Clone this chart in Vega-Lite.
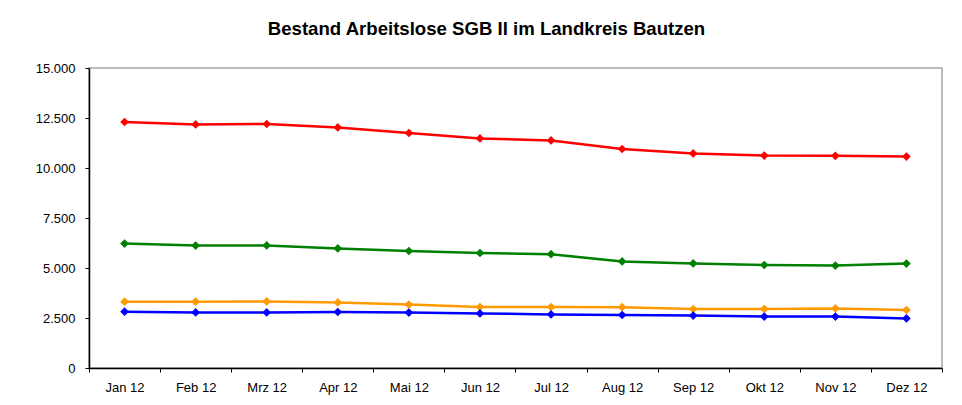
{
  "$schema": "https://vega.github.io/schema/vega-lite/v6.json",
  "width": 853,
  "height": 300,
  "autosize": {"type": "none"},
  "padding": {"left": 89, "top": 68, "right": 20, "bottom": 37},
  "background": "white",
  "title": {
    "text": "Bestand Arbeitslose SGB II im Landkreis Bautzen",
    "font": "Liberation Sans",
    "fontSize": 18.6,
    "fontWeight": "bold",
    "color": "#000000",
    "anchor": "middle",
    "dx": -29,
    "offset": 23
  },
  "config": {
    "view": {"stroke": "#a6a6a6", "strokeWidth": 1.5},
    "axis": {
      "labelFont": "Liberation Sans",
      "labelFontSize": 13,
      "labelColor": "#000000",
      "domainColor": "#000000",
      "domainWidth": 1.5,
      "tickColor": "#000000",
      "tickSize": 4,
      "grid": false,
      "title": null
    }
  },
  "data": {
    "values": [
      {"monat": "Jan 12", "reihe": "A", "wert": 12300},
      {"monat": "Feb 12", "reihe": "A", "wert": 12180},
      {"monat": "Mrz 12", "reihe": "A", "wert": 12200},
      {"monat": "Apr 12", "reihe": "A", "wert": 12030},
      {"monat": "Mai 12", "reihe": "A", "wert": 11750},
      {"monat": "Jun 12", "reihe": "A", "wert": 11480},
      {"monat": "Jul 12", "reihe": "A", "wert": 11380},
      {"monat": "Aug 12", "reihe": "A", "wert": 10950},
      {"monat": "Sep 12", "reihe": "A", "wert": 10730},
      {"monat": "Okt 12", "reihe": "A", "wert": 10620},
      {"monat": "Nov 12", "reihe": "A", "wert": 10610},
      {"monat": "Dez 12", "reihe": "A", "wert": 10570},
      {"monat": "Jan 12", "reihe": "B", "wert": 6220},
      {"monat": "Feb 12", "reihe": "B", "wert": 6120},
      {"monat": "Mrz 12", "reihe": "B", "wert": 6130},
      {"monat": "Apr 12", "reihe": "B", "wert": 5980},
      {"monat": "Mai 12", "reihe": "B", "wert": 5850},
      {"monat": "Jun 12", "reihe": "B", "wert": 5750},
      {"monat": "Jul 12", "reihe": "B", "wert": 5690},
      {"monat": "Aug 12", "reihe": "B", "wert": 5330},
      {"monat": "Sep 12", "reihe": "B", "wert": 5230},
      {"monat": "Okt 12", "reihe": "B", "wert": 5150},
      {"monat": "Nov 12", "reihe": "B", "wert": 5120},
      {"monat": "Dez 12", "reihe": "B", "wert": 5220},
      {"monat": "Jan 12", "reihe": "C", "wert": 3317},
      {"monat": "Feb 12", "reihe": "C", "wert": 3317},
      {"monat": "Mrz 12", "reihe": "C", "wert": 3330},
      {"monat": "Apr 12", "reihe": "C", "wert": 3280},
      {"monat": "Mai 12", "reihe": "C", "wert": 3170},
      {"monat": "Jun 12", "reihe": "C", "wert": 3050},
      {"monat": "Jul 12", "reihe": "C", "wert": 3050},
      {"monat": "Aug 12", "reihe": "C", "wert": 3040},
      {"monat": "Sep 12", "reihe": "C", "wert": 2950},
      {"monat": "Okt 12", "reihe": "C", "wert": 2950},
      {"monat": "Nov 12", "reihe": "C", "wert": 2980},
      {"monat": "Dez 12", "reihe": "C", "wert": 2900},
      {"monat": "Jan 12", "reihe": "D", "wert": 2817},
      {"monat": "Feb 12", "reihe": "D", "wert": 2780},
      {"monat": "Mrz 12", "reihe": "D", "wert": 2780},
      {"monat": "Apr 12", "reihe": "D", "wert": 2800},
      {"monat": "Mai 12", "reihe": "D", "wert": 2770},
      {"monat": "Jun 12", "reihe": "D", "wert": 2730},
      {"monat": "Jul 12", "reihe": "D", "wert": 2680},
      {"monat": "Aug 12", "reihe": "D", "wert": 2650},
      {"monat": "Sep 12", "reihe": "D", "wert": 2620},
      {"monat": "Okt 12", "reihe": "D", "wert": 2570},
      {"monat": "Nov 12", "reihe": "D", "wert": 2570},
      {"monat": "Dez 12", "reihe": "D", "wert": 2480}
    ]
  },
  "mark": {
    "type": "line",
    "strokeWidth": 2.5,
    "point": {"shape": "diamond", "filled": true, "size": 75, "opacity": 1}
  },
  "encoding": {
    "x": {
      "field": "monat",
      "type": "ordinal",
      "sort": null,
      "scale": {"type": "band", "paddingInner": 0, "paddingOuter": 0},
      "axis": {
        "labelAngle": 0,
        "labelPadding": 9,
        "tickBand": "extent",
        "ticks": true
      }
    },
    "y": {
      "field": "wert",
      "type": "quantitative",
      "scale": {"domain": [0, 15000], "nice": false},
      "axis": {
        "values": [0, 2500, 5000, 7500, 10000, 12500, 15000],
        "labelExpr": "replace(format(datum.value, ',.0f'), ',', '.')",
        "labelPadding": 10
      }
    },
    "color": {
      "field": "reihe",
      "type": "nominal",
      "scale": {"domain": ["A", "B", "C", "D"], "range": ["#ff0000", "#008000", "#ff9900", "#0000ff"]},
      "legend": null
    }
  }
}
